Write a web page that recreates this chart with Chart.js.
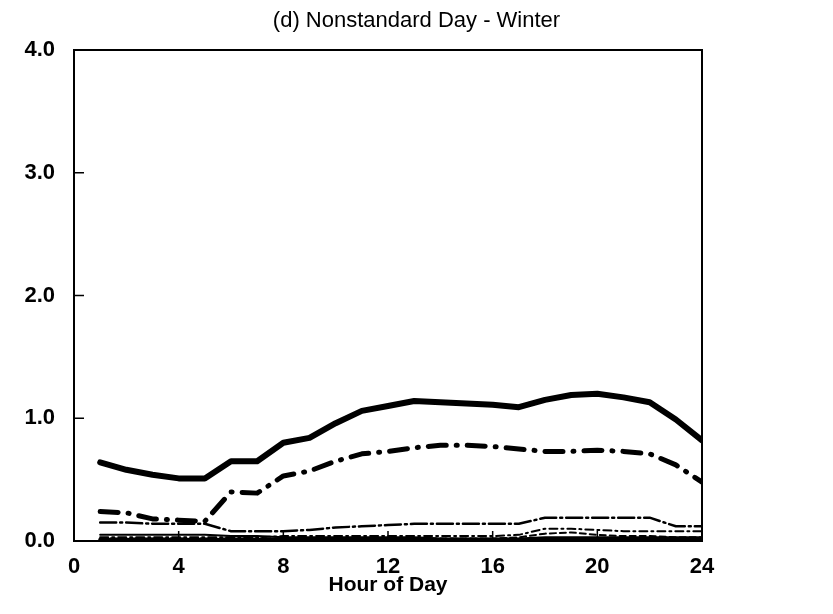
<!DOCTYPE html>
<html>
<head>
<meta charset="utf-8">
<script src="https://cdn.jsdelivr.net/npm/chart.js@4.4.1/dist/chart.umd.min.js"></script>
<style>
    html, body { margin: 0; padding: 0; background: #fff; }
    #wrap { width: 833px; height: 614px; }
</style>
</head>
<body>
<div id="wrap"><canvas id="winterChart"></canvas></div>
<script>
// Hour of day (x) and the load curves
const hours = [1, 2, 3, 4, 5, 6, 7, 8, 9, 10, 11, 12, 13, 14, 15, 16, 17, 18, 19, 20, 21, 22, 23, 24];

const totalLoad = [0.64, 0.58, 0.54, 0.51, 0.51, 0.65, 0.65, 0.80, 0.84, 0.96, 1.06, 1.10,
                   1.14, 1.13, 1.12, 1.11, 1.09, 1.15, 1.19, 1.20, 1.17, 1.13, 0.99, 0.82];
const heatLoad = [0.24, 0.23, 0.18, 0.17, 0.16, 0.40, 0.39, 0.53, 0.57, 0.65, 0.71, 0.73,
                  0.76, 0.78, 0.78, 0.77, 0.75, 0.73, 0.73, 0.74, 0.73, 0.71, 0.62, 0.48];
const lightLoad = [0.15, 0.15, 0.14, 0.14, 0.14, 0.08, 0.08, 0.08, 0.09, 0.11, 0.12, 0.13,
                   0.14, 0.14, 0.14, 0.14, 0.14, 0.19, 0.19, 0.19, 0.19, 0.19, 0.12, 0.12];
const otherLoad1 = [0.05, 0.05, 0.05, 0.05, 0.05, 0.04, 0.04, 0.03, 0.03, 0.03, 0.03, 0.03,
                    0.03, 0.02, 0.02, 0.02, 0.02, 0.03, 0.03, 0.03, 0.03, 0.03, 0.03, 0.03];
const otherLoad2 = [0.03, 0.03, 0.03, 0.03, 0.03, 0.03, 0.03, 0.04, 0.04, 0.04, 0.04, 0.04,
                    0.04, 0.04, 0.04, 0.04, 0.05, 0.10, 0.10, 0.09, 0.08, 0.08, 0.08, 0.08];
const otherLoad3 = [0.02, 0.02, 0.02, 0.02, 0.02, 0.02, 0.02, 0.02, 0.02, 0.02, 0.02, 0.02,
                    0.02, 0.02, 0.02, 0.02, 0.03, 0.06, 0.07, 0.05, 0.04, 0.04, 0.03, 0.03];
const otherLoad4 = [0.01, 0.01, 0.01, 0.01, 0.01, 0.01, 0.01, 0.01, 0.01, 0.01, 0.01, 0.01,
                    0.01, 0.01, 0.01, 0.01, 0.01, 0.01, 0.01, 0.01, 0.01, 0.01, 0.01, 0.01];

const xTicks = [0, 4, 8, 12, 16, 20, 24];
const yTicks = [0, 1, 2, 3, 4];

const FONT = "'Liberation Sans', Arial, sans-serif";

function toPoints(values) {
    return hours.map((h, i) => ({ x: h, y: values[i] }));
}

function lineSet(values, width, dash) {
    return {
        data: toPoints(values),
        borderColor: '#000',
        borderWidth: width,
        borderDash: dash,
        borderCapStyle: 'round',
        borderJoinStyle: 'round',
        pointRadius: 0,
        tension: 0,
        fill: false
    };
}

// Frame round the plot and short inward tick marks
const framePlugin = {
    id: 'frame',
    afterDatasetsDraw(chart) {
        const { ctx, chartArea: a, scales } = chart;
        ctx.save();
        ctx.strokeStyle = '#000';
        ctx.lineWidth = 2;
        ctx.strokeRect(a.left, a.top, a.right - a.left, a.bottom - a.top);
        ctx.lineWidth = 1.5;
        ctx.beginPath();
        xTicks.forEach(v => {
            const px = scales.x.getPixelForValue(v);
            ctx.moveTo(px, a.bottom);
            ctx.lineTo(px, a.bottom - 10);
        });
        yTicks.forEach(v => {
            const py = scales.y.getPixelForValue(v);
            ctx.moveTo(a.left, py);
            ctx.lineTo(a.left + 10, py);
        });
        ctx.stroke();
        ctx.restore();
    }
};

const ctx = document.getElementById('winterChart').getContext('2d');
new Chart(ctx, {
    type: 'line',
    data: {
        datasets: [
            lineSet(otherLoad4, 4, [3, 2]),
            lineSet(otherLoad3, 2, [6, 4]),
            lineSet(otherLoad2, 2, [8, 4, 2, 4]),
            lineSet(otherLoad1, 2, []),
            lineSet(lightLoad, 2.5, [16, 4, 2, 4]),
            lineSet(heatLoad, 5, [18, 10, 1, 10]),
            lineSet(totalLoad, 6, [])
        ]
    },
    options: {
        responsive: true,
        maintainAspectRatio: false,
        animation: false,
        layout: {
            padding: 0
        },
        plugins: {
            legend: { display: false },
            tooltip: { enabled: false },
            title: {
                display: true,
                text: '(d) Nonstandard Day - Winter',
                color: '#000',
                font: { family: FONT, size: 22, weight: 'normal', lineHeight: 1.2 },
                padding: { top: 8, bottom: 15.6 }
            }
        },
        scales: {
            x: {
                type: 'linear',
                min: 0,
                max: 24,
                afterBuildTicks: (scale) => { scale.ticks = xTicks.map(v => ({ value: v })); },
                afterFit: (scale) => { scale.height = 73; },
                grid: { display: false, drawTicks: false },
                border: { display: false },
                ticks: {
                    color: '#000',
                    padding: 13,
                    maxRotation: 0,
                    font: { family: FONT, size: 22, weight: 'bold' }
                },
                title: {
                    display: true,
                    text: 'Hour of Day',
                    color: '#000',
                    font: { family: FONT, size: 21, weight: 'bold', lineHeight: 1.2 },
                    padding: { top: 0, bottom: 16 }
                }
            },
            y: {
                min: 0,
                max: 4,
                afterBuildTicks: (scale) => { scale.ticks = yTicks.map(v => ({ value: v })); },
                afterFit: (scale) => { scale.width = 74; },
                grid: { display: false, drawTicks: false },
                border: { display: false },
                ticks: {
                    color: '#000',
                    padding: 19,
                    font: { family: FONT, size: 22, weight: 'bold' },
                    callback: (v) => Number(v).toFixed(1)
                }
            },
            // empty right-hand axis, only to leave the white margin on the right
            yRight: {
                position: 'right',
                min: 0,
                max: 4,
                afterFit: (scale) => { scale.width = 131; },
                grid: { display: false, drawTicks: false },
                border: { display: false },
                ticks: { display: false }
            }
        }
    },
    plugins: [framePlugin]
});
</script>
</body>
</html>
